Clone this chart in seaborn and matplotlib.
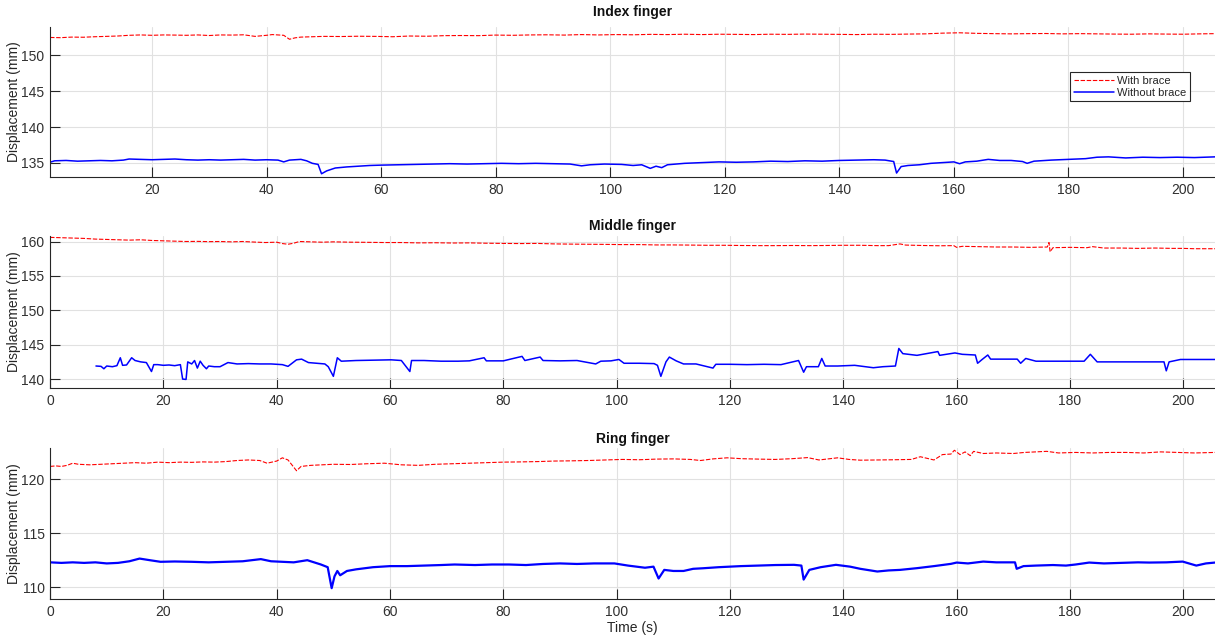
import seaborn as sns
import pandas as pd
import matplotlib.pyplot as plt

# ---- Index finger ----
idx_t_with = [2.2, 4, 6, 8, 10, 12, 14, 16, 18, 20, 22, 24, 26, 28, 30, 32, 34, 36, 38, 40, 41, 42, 43, 44, 45,
              46, 48, 50, 53, 56, 59, 62, 65, 68, 71, 74, 77, 80, 83, 86, 89, 92, 95, 98, 101, 104, 107, 110, 113,
              116, 119, 122, 125, 128, 131, 134, 137, 140, 143, 146, 149, 152, 155, 158, 161, 164, 167, 170, 173,
              176, 179, 182, 185, 188, 191, 194, 197, 200, 203, 205.6]
idx_with = [152.45, 152.42, 152.5, 152.48, 152.55, 152.6, 152.65, 152.75, 152.8, 152.75, 152.8, 152.78, 152.75,
            152.8, 152.72, 152.8, 152.78, 152.82, 152.6, 152.75, 152.85, 152.8, 152.75, 152.2, 152.4, 152.5, 152.55,
            152.6, 152.58, 152.62, 152.6, 152.55, 152.65, 152.62, 152.7, 152.72, 152.7, 152.78, 152.75, 152.8,
            152.82, 152.78, 152.85, 152.8, 152.85, 152.82, 152.88, 152.85, 152.9, 152.85, 152.9, 152.88, 152.85,
            152.9, 152.88, 152.92, 152.9, 152.88, 152.85, 152.9, 152.88, 152.92, 152.95, 153.05, 153.1, 153.02,
            152.98, 152.95, 152.98, 153.0, 152.95, 152.98, 152.95, 152.92, 152.9, 152.95, 152.92, 152.9, 152.95,
            152.98]
idx_t_without = [2.2, 3, 5, 7, 9, 11, 13, 15, 16, 18, 20, 22, 24, 26, 28, 30, 32, 34, 36, 38, 40, 42, 43, 44, 46,
                 47, 48, 49, 49.6, 50.5, 52, 54, 56, 58, 60, 63, 66, 69, 72, 75, 78, 81, 84, 87, 90, 93, 95, 96.5,
                 99, 102, 104, 105.5, 107, 108, 109, 110, 113, 116, 119, 122, 125, 128, 131, 134, 137, 140, 143,
                 146, 148, 149.5, 150, 150.8, 152, 154, 156, 158, 160, 161, 162, 164, 166, 168, 170, 172, 172.8,
                 174, 177, 180, 183, 185, 187, 190, 193, 196, 199, 202, 205.6]
idx_without = [135.1, 135.3, 135.35, 135.25, 135.3, 135.35, 135.3, 135.4, 135.55, 135.5, 135.45, 135.5, 135.55,
               135.45, 135.4, 135.45, 135.4, 135.45, 135.5, 135.4, 135.45, 135.4, 135.15, 135.4, 135.5, 135.3, 134.95,
               134.8, 133.5, 133.9, 134.3, 134.45, 134.55, 134.65, 134.7, 134.75, 134.8, 134.85, 134.9, 134.85,
               134.9, 134.95, 134.9, 134.95, 134.9, 134.85, 134.6, 134.75, 134.85, 134.8, 134.65, 134.75, 134.25,
               134.55, 134.35, 134.75, 134.95, 135.05, 135.15, 135.1, 135.15, 135.25, 135.2, 135.3, 135.25, 135.35,
               135.4, 135.45, 135.4, 135.2, 133.6, 134.5, 134.65, 134.75, 134.95, 135.05, 135.15, 134.9, 135.15,
               135.25, 135.5, 135.35, 135.35, 135.2, 134.95, 135.25, 135.4, 135.5, 135.6, 135.8, 135.85, 135.7,
               135.8, 135.75, 135.8, 135.75, 135.85]

# ---- Middle finger ----
mid_t_with = [0, 2, 4, 6, 8, 10, 12, 14, 16, 18, 20, 22, 24, 26, 28, 30, 32, 34, 36, 38, 40, 41, 42, 43, 44, 46,
              48, 50, 53, 56, 59, 62, 65, 68, 71, 74, 77, 80, 83, 86, 89, 92, 95, 98, 101, 104, 107, 110, 113, 116,
              119, 122, 125, 128, 131, 134, 137, 140, 143, 146, 148, 150, 151, 154, 157, 159.5, 160, 161, 164, 167,
              170, 173, 176, 176.3, 176.5, 177, 180, 183, 184, 186, 189, 192, 195, 198, 200, 202, 205.6]
mid_with = [160.6, 160.55, 160.5, 160.45, 160.35, 160.3, 160.25, 160.2, 160.25, 160.15, 160.1, 160.05, 160.0,
            160.02, 159.98, 160.0, 159.95, 160.0, 159.92, 159.85, 159.9, 159.7, 159.6, 159.75, 160.0, 159.95, 159.9,
            159.95, 159.9, 159.88, 159.85, 159.85, 159.8, 159.82, 159.78, 159.8, 159.75, 159.72, 159.7, 159.72,
            159.65, 159.62, 159.6, 159.58, 159.55, 159.55, 159.5, 159.5, 159.48, 159.45, 159.45, 159.42, 159.4,
            159.4, 159.42, 159.4, 159.42, 159.45, 159.45, 159.4, 159.4, 159.65, 159.48, 159.42, 159.38, 159.4,
            159.15, 159.3, 159.25, 159.2, 159.2, 159.15, 159.2, 159.85, 158.5, 159.1, 159.15, 159.1, 159.25, 159.05,
            159.05, 159.0, 159.05, 159.0, 159.0, 158.95, 158.95]
mid_t_without = [8.1, 9, 9.5, 10, 11, 11.8, 12.4, 12.8, 13.5, 14.4, 15, 16, 17, 17.9, 18.3, 19, 20, 21, 22, 23,
                 23.4, 24.0, 24.3, 25, 25.5, 26, 26.5, 27, 27.6, 28, 29, 30, 31.4, 33, 35, 37, 39, 41, 42, 43.5,
                 44.4, 45.6, 47, 48.5, 49.1, 50, 50.7, 51.4, 54, 57, 60.2, 62, 63.5, 63.8, 66, 69, 72, 74, 76.6,
                 77, 80, 83.3, 83.8, 86.5, 87, 90, 93, 96.3, 97.2, 99, 100.4, 101.3, 104, 106.6, 107.2, 107.8,
                 108.7, 109.3, 110.5, 111.8, 114, 117, 117.5, 120, 123, 126, 129, 132.1, 133, 133.5, 135.6, 136.2,
                 136.8, 139, 142, 145.3, 147, 149.2, 149.8, 150.5, 153, 156.7, 157, 159.7, 161, 163.3, 163.7,
                 164.5, 165.5, 166, 168, 170.7, 171.3, 172.2, 174, 177, 180, 182.5, 183.6, 184.8, 188, 191, 194,
                 196.6, 197, 197.5, 199.5, 202, 205.6]
mid_without = [141.9, 141.85, 141.5, 141.9, 141.8, 141.95, 143.1, 142.0, 142.05, 143.1, 142.7, 142.5, 142.4,
               141.1, 142.1, 142.1, 142.0, 142.05, 141.95, 142.1, 140.0, 139.95, 142.5, 142.2, 142.7, 141.6, 142.6,
               142.0, 141.5, 141.9, 141.8, 141.8, 142.4, 142.2, 142.25, 142.2, 142.2, 142.1, 141.85, 142.8, 142.9,
               142.4, 142.3, 142.2, 141.8, 140.4, 143.1, 142.6, 142.7, 142.75, 142.8, 142.7, 141.1, 142.7, 142.7,
               142.6, 142.6, 142.65, 143.1, 142.65, 142.65, 143.3, 142.7, 143.2, 142.7, 142.65, 142.7, 142.2, 142.6,
               142.65, 142.85, 142.3, 142.3, 142.25, 142.0, 140.4, 142.5, 143.2, 142.65, 142.2, 142.2, 141.6, 142.15,
               142.15, 142.1, 142.15, 142.1, 142.7, 141.0, 141.8, 141.8, 143.0, 141.9, 141.9, 142.0, 141.65, 141.8,
               141.9, 144.45, 143.7, 143.45, 144.0, 143.45, 143.8, 143.6, 143.5, 142.3, 142.85, 143.5, 142.9, 142.9,
               142.9, 142.3, 143.0, 142.6, 142.6, 142.6, 142.6, 143.6, 142.5, 142.5, 142.5, 142.5, 142.5, 141.2,
               142.5, 142.85, 142.85, 142.85]

# ---- Ring finger ----
ring_t_with = [0, 1, 2, 3, 4, 5, 7, 9, 11, 13, 15, 17, 19, 21, 23, 25, 27, 29, 31, 33, 35, 37, 38.3, 40, 41, 42,
               43.5, 44.3, 46, 48, 50, 53, 56, 59, 62, 65, 68, 71, 74, 77, 80, 83, 86, 89, 92, 95, 98, 101, 104,
               107, 110, 113, 114.8, 117, 119.5, 122, 125, 128, 131, 133.7, 135.7, 139, 141, 143, 146, 149, 152,
               153.6, 156, 157.5, 159, 159.6, 160.6, 161.5, 162.4, 163, 164.7, 167, 170, 172, 175.9, 178, 181, 184,
               187, 190, 193, 196, 199, 202, 205.6]
ring_with = [121.2, 121.25, 121.2, 121.3, 121.5, 121.4, 121.35, 121.4, 121.45, 121.5, 121.55, 121.5, 121.6, 121.55,
             121.6, 121.58, 121.62, 121.6, 121.65, 121.75, 121.8, 121.75, 121.5, 121.7, 122.0, 121.8, 120.8, 121.2,
             121.3, 121.35, 121.4, 121.38, 121.45, 121.5, 121.35, 121.3, 121.4, 121.45, 121.5, 121.55, 121.6,
             121.62, 121.65, 121.7, 121.72, 121.75, 121.8, 121.85, 121.82, 121.88, 121.9, 121.85, 121.75, 121.9,
             122.0, 121.92, 121.88, 121.85, 121.92, 122.02, 121.8, 122.0, 121.85, 121.78, 121.8, 121.82, 121.85,
             122.1, 121.8, 122.3, 122.35, 122.7, 122.3, 122.55, 122.2, 122.6, 122.4, 122.45, 122.4, 122.5, 122.6,
             122.45, 122.5, 122.45, 122.5, 122.5, 122.45, 122.55, 122.5, 122.45, 122.5]
ring_t_without = [0, 2, 4, 6, 8, 10, 12, 14, 15.8, 17.6, 19.5, 22, 25, 28, 31, 34, 37.2, 39, 41, 43, 45.4, 47.8, 49,
                  49.7, 50.2, 50.7, 51.2, 52.4, 54, 57, 60, 63, 66, 69, 71.4, 75, 78, 81, 84, 87, 90, 93, 96, 99.6,
                  102, 105, 106.5, 107.4, 108.4, 110, 111.8, 113.5, 115.2, 118, 121.9, 125, 128, 131.3, 132.6, 133,
                  134, 136, 138.7, 141.2, 143, 146, 148, 150, 153, 156, 159, 160, 162, 164.7, 167, 170.3, 170.6,
                  171.8, 174, 177, 179.3, 181, 183.4, 186, 189, 192, 194, 197, 199.9, 202.3, 204, 205.6]
ring_without = [112.3, 112.25, 112.3, 112.25, 112.3, 112.2, 112.25, 112.4, 112.65, 112.5, 112.35, 112.38, 112.35,
                112.3, 112.35, 112.4, 112.6, 112.4, 112.35, 112.3, 112.5, 112.1, 111.85, 109.9, 111.0, 111.5, 111.1,
                111.5, 111.65, 111.85, 111.95, 111.95, 112.0, 112.05, 112.1, 112.05, 112.1, 112.1, 112.05, 112.15,
                112.2, 112.15, 112.2, 112.2, 112.0, 111.8, 111.9, 110.8, 111.6, 111.5, 111.5, 111.7, 111.75, 111.85,
                111.95, 112.0, 112.05, 112.07, 112.0, 110.7, 111.6, 111.85, 112.07, 111.9, 111.7, 111.45, 111.55,
                111.6, 111.76, 111.95, 112.16, 112.28, 112.2, 112.37, 112.3, 112.3, 111.7, 111.95, 112.0, 112.05,
                112.0, 112.1, 112.28, 112.2, 112.25, 112.3, 112.28, 112.3, 112.37, 112.0, 112.2, 112.28]

titles = ["Index finger", "Middle finger", "Ring finger"]

sns.set_style("whitegrid")
plt.rcParams['font.family'] = ['Liberation Sans', 'DejaVu Sans']

fig = plt.figure(figsize=(12.15, 6.42), dpi=100)
# [left, bottom, width, height] in figure fraction, copied from the MATLAB layout
boxes = [[0.0412, 0.7243, 0.9588, 0.2336],
         [0.0412, 0.3956, 0.9588, 0.2368],
         [0.0412, 0.0670, 0.9588, 0.2350]]
xlims = [(2.2, 205.6), (0, 205.6), (0, 205.6)]
ylims = [(133.05, 153.9), (138.7, 160.8), (108.9, 122.9)]
yticks = [[135, 140, 145, 150], [140, 145, 150, 155, 160], [110, 115, 120]]
xticks = [range(20, 201, 20), range(0, 201, 20), range(0, 201, 20)]
pads = [8, 4, 4]

data = [(idx_t_with, idx_with, idx_t_without, idx_without),
        (mid_t_with, mid_with, mid_t_without, mid_without),
        (ring_t_with, ring_with, ring_t_without, ring_without)]

for i, (tw, vw, tn, vn) in enumerate(data):
    ax = fig.add_axes(boxes[i])
    with_df = pd.DataFrame({"Time": tw, "Displacement": vw})
    without_df = pd.DataFrame({"Time": tn, "Displacement": vn})
    sns.lineplot(data=with_df, x="Time", y="Displacement", color="#ff0000", linewidth=0.8,
                 linestyle=(0, (4, 1.5)), estimator=None, sort=False, ax=ax, label="With brace")
    sns.lineplot(data=without_df, x="Time", y="Displacement", color="#0000ff",
                 linewidth=1.6 if i == 2 else 1.1, estimator=None, sort=False, ax=ax, label="Without brace")

    ax.set_xlim(*xlims[i])
    ax.set_ylim(*ylims[i])
    ax.set_xticks(list(xticks[i]))
    ax.set_yticks(yticks[i])
    ax.grid(True, color="#e1e1e1", linewidth=0.8)
    for side in ["top", "right"]:
        ax.spines[side].set_visible(False)
    for side in ["left", "bottom"]:
        ax.spines[side].set_color("#262626")
        ax.spines[side].set_linewidth(0.8)
    ax.tick_params(bottom=True, left=True, direction="in", length=7, width=0.8, color="#262626",
                   labelcolor="#303030", labelsize=10, pad=4)
    ax.set_title(titles[i], fontsize=10, fontweight="bold", pad=pads[i], color="#111111")
    ax.set_ylabel("Displacement (mm)", fontsize=10, color="#262626", labelpad=0)
    if i == 2:
        ax.set_xlabel("Time (s)", fontsize=10, color="#262626", labelpad=2)
    else:
        ax.set_xlabel("")

    if i == 0:
        leg = ax.legend(loc="upper right", bbox_to_anchor=(0.983, 0.735), fontsize=8, frameon=True,
                        fancybox=False, framealpha=1, edgecolor="#262626", handlelength=3.6,
                        borderpad=0.3, labelspacing=0.2, handletextpad=0.3)
        leg.get_frame().set_linewidth(0.8)
    else:
        ax.get_legend().remove()

fig.savefig("out.png", dpi=100)
